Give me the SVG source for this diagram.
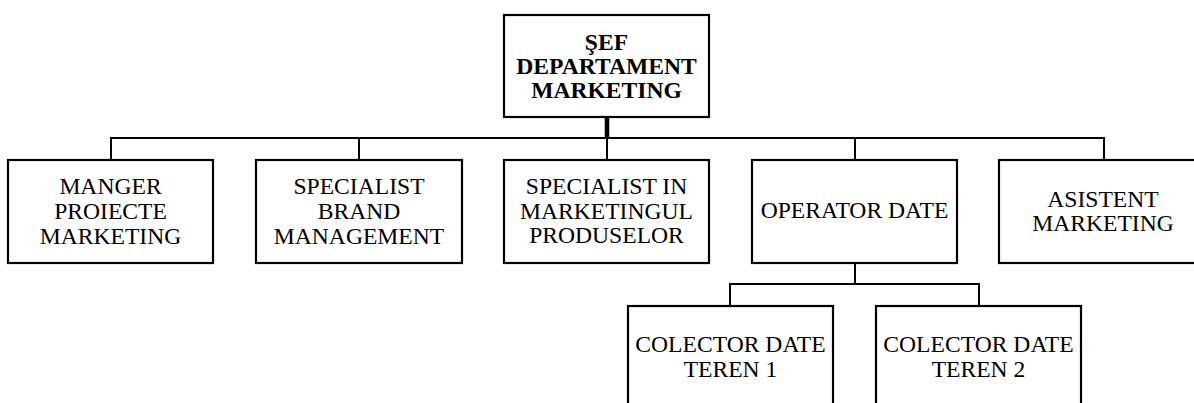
<svg xmlns="http://www.w3.org/2000/svg" width="1194" height="403" viewBox="0 0 1194 403">
<style>
.box{fill:#fff;stroke:#000;stroke-width:2.2}
.t{font-family:"Liberation Serif","Times New Roman",serif;font-size:23.6px;fill:#000;text-anchor:middle}
.b{font-weight:bold}
.c{fill:none;stroke:#000;stroke-width:2}
</style>
<rect width="1194" height="403" fill="#fff"/>
<g id="connectors">
<line class="c" x1="607" y1="117" x2="607" y2="138" style="stroke-width:4.5"/>
<line class="c" x1="607" y1="137" x2="607" y2="160"/>
<polyline class="c" points="111,160 111,138 1104,138 1104,160"/>
<line class="c" x1="359" y1="138" x2="359" y2="160"/>
<line class="c" x1="855" y1="138" x2="855" y2="160"/>
<line class="c" x1="855" y1="263" x2="855" y2="284"/>
<polyline class="c" points="730,306 730,284 979,284 979,306"/>
</g>
<g id="n0"><rect class="box" x="504" y="15" width="205" height="102"/>
<text class="t b" x="606.5" y="50">ŞEF</text><text class="t b" x="606.5" y="74">DEPARTAMENT</text><text class="t b" x="606.5" y="98">MARKETING</text></g>
<g id="n1"><rect class="box" x="8" y="160" width="205" height="103"/>
<text class="t" x="110.5" y="194">MANGER</text><text class="t" x="110.5" y="219">PROIECTE</text><text class="t" x="110.5" y="244">MARKETING</text></g>
<g id="n2"><rect class="box" x="256" y="160" width="206" height="103"/>
<text class="t" x="359" y="194">SPECIALIST</text><text class="t" x="359" y="219">BRAND</text><text class="t" x="359" y="244">MANAGEMENT</text></g>
<g id="n3"><rect class="box" x="504" y="160" width="205" height="103"/>
<text class="t" x="606.5" y="194">SPECIALIST IN</text><text class="t" x="606.5" y="219">MARKETINGUL</text><text class="t" x="606.5" y="243">PRODUSELOR</text></g>
<g id="n4"><rect class="box" x="752" y="160" width="205" height="103"/>
<text class="t" x="854.5" y="218">OPERATOR DATE</text></g>
<g id="n5"><rect class="box" x="999" y="160" width="206" height="103"/>
<text class="t" x="1103" y="207">ASISTENT</text><text class="t" x="1103" y="231">MARKETING</text></g>
<g id="n6"><rect class="box" x="628" y="306" width="205" height="120"/>
<text class="t" x="730.5" y="352">COLECTOR DATE</text><text class="t" x="730.5" y="377">TEREN 1</text></g>
<g id="n7"><rect class="box" x="876" y="306" width="205" height="120"/>
<text class="t" x="978.5" y="352">COLECTOR DATE</text><text class="t" x="978.5" y="377">TEREN 2</text></g>
</svg>
